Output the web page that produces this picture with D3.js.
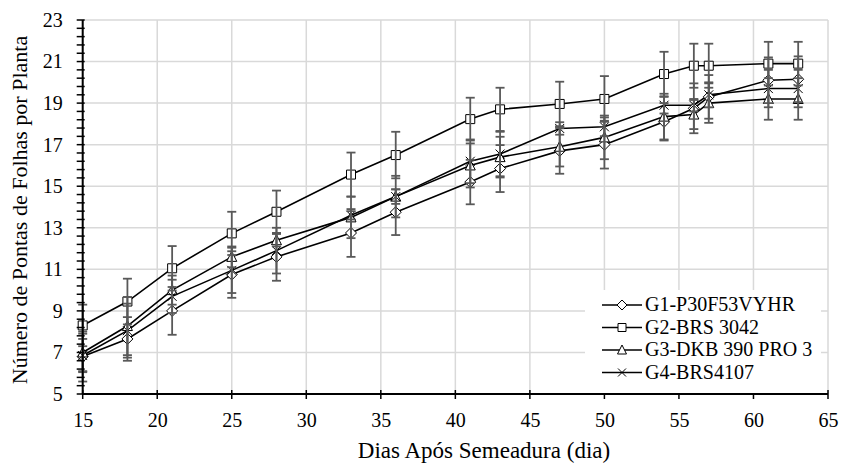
<!DOCTYPE html>
<html>
<head>
<meta charset="utf-8">
<script src="https://cdn.jsdelivr.net/npm/d3@7"></script>
<style>
  html, body { margin: 0; padding: 0; background: #fff; }
  svg { display: block; }
</style>
</head>
<body>
<svg id="chart" width="841" height="466"></svg>
<script>
// ---- data ----
const days = [15, 18, 21, 25, 28, 33, 36, 41, 43, 47, 50, 54, 56, 57, 61, 63];
const seriesNames = ["G1-P30F53VYHR", "G2-BRS 3042", "G3-DKB 390 PRO 3", "G4-BRS4107"];
const seriesMarkers = ["diamond", "square", "triangle", "x"];
const g1Values = [6.8, 7.65, 9.0, 10.75, 11.6, 12.75, 13.75, 15.2, 15.85, 16.7, 17.0, 18.1, 18.75, 19.3, 20.1, 20.15];
const g2Values = [8.3, 9.45, 11.05, 12.73, 13.77, 15.56, 16.5, 18.23, 18.7, 18.96, 19.2, 20.4, 20.8, 20.8, 20.9, 20.9];
const g3Values = [7.0, 8.27, 10.0, 11.6, 12.4, 13.5, 14.5, 16.0, 16.4, 16.9, 17.35, 18.35, 18.45, 19.0, 19.2, 19.2];
const g4Values = [6.85, 8.05, 9.7, 10.95, 11.9, 13.6, 14.5, 16.2, 16.55, 17.78, 17.86, 18.9, 18.9, 19.4, 19.7, 19.7];
const g1Errors = [1.2, 1.05, 1.15, 1.12, 1.15, 1.15, 1.1, 1.07, 1.13, 1.1, 1.15, 0.9, 1.2, 1.05, 1.1, 1.1];
const g2Errors = [1.0, 1.1, 1.07, 1.04, 1.02, 1.06, 1.12, 1.03, 1.04, 1.07, 1.1, 1.07, 1.06, 1.06, 1.05, 1.05];
const g3Errors = [0.9, 1.4, 0.7, 0.5, 0.3, 1.0, 1.0, 1.06, 0.98, 0.95, 1.05, 1.1, 0.7, 0.95, 1.0, 1.0];
const g4Errors = [0.8, 1.3, 0.8, 1.09, 1.1, 0.2, 0.35, 1.05, 1.07, 0.3, 0.45, 0.4, 0.3, 0.6, 0.9, 0.9];
const xTicks = [15, 20, 25, 30, 35, 40, 45, 50, 55, 60, 65];
const yTicks = [5, 7, 9, 11, 13, 15, 17, 19, 21, 23];
const xTitle = "Dias Após Semeadura (dia)";
const yTitle = "Número de Pontas de Folhas por Planta";

const seriesValues = [g1Values, g2Values, g3Values, g4Values];
const seriesErrors = [g1Errors, g2Errors, g3Errors, g4Errors];

// ---- layout ----
const svg = d3.select("#chart");
const FONT = "Liberation Serif";
const L = 82.7, R = 828, T = 20, B = 394;
const x = d3.scaleLinear().domain([15, 65]).range([L, R]);
const y = d3.scaleLinear().domain([5, 23]).range([B, T]);

const gridColor = "#d9d9d9";
const errColor = "#595959";

// gridlines
const grid = svg.append("g");
grid.selectAll("line.h").data(yTicks).join("line")
  .attr("x1", L).attr("x2", R).attr("y1", d => y(d)).attr("y2", d => y(d))
  .attr("stroke", gridColor).attr("stroke-width", 1.5);
grid.selectAll("line.v").data(xTicks).join("line")
  .attr("y1", T).attr("y2", B).attr("x1", d => x(d)).attr("x2", d => x(d))
  .attr("stroke", gridColor).attr("stroke-width", 1.5);

// marker paths
function markerPath(type, s) {
  const h = s / 2;
  switch (type) {
    case "diamond": return `M0,${-h - 1}L${h + 1},0L0,${h + 1}L${-h - 1},0Z`;
    case "square": return `M${-h},${-h}H${h}V${h}H${-h}Z`;
    case "triangle": return `M0,${-h - 1}L${h + 0.5},${h}H${-h - 0.5}Z`;
    case "x": return `M${-h},${-h}L${h},${h}M${-h},${h}L${h},${-h}`;
  }
}

const line = d3.line().x(d => x(d[0])).y(d => y(d[1]));
const plot = svg.append("g");

// lines
seriesValues.forEach((vals, i) => {
  plot.append("path")
    .datum(days.map((d, k) => [d, vals[k]]))
    .attr("d", line).attr("fill", "none")
    .attr("stroke", "#000").attr("stroke-width", 1.6);
});

// markers
seriesValues.forEach((vals, i) => {
  plot.selectAll(null).data(days.map((d, k) => [d, vals[k]])).join("path")
    .attr("transform", d => `translate(${x(d[0])},${y(d[1])})`)
    .attr("d", markerPath(seriesMarkers[i], 9))
    .attr("fill", seriesMarkers[i] === "x" ? "none" : "#fff")
    .attr("stroke", "#000").attr("stroke-width", 1);
});

// error bars
seriesValues.forEach((vals, i) => {
  const errs = seriesErrors[i];
  const g = plot.append("g").attr("stroke", errColor).attr("stroke-width", 1.8);
  days.forEach((d, k) => {
    const cx = x(d), y1 = y(vals[k] + errs[k]), y2 = y(vals[k] - errs[k]);
    g.append("line").attr("x1", cx).attr("x2", cx).attr("y1", y1).attr("y2", y2);
    g.append("line").attr("x1", cx - 4.5).attr("x2", cx + 4.5).attr("y1", y1).attr("y2", y1);
    g.append("line").attr("x1", cx - 4.5).attr("x2", cx + 4.5).attr("y1", y2).attr("y2", y2);
  });
});

// axes lines
svg.append("line").attr("x1", L).attr("x2", L).attr("y1", T).attr("y2", B)
  .attr("stroke", "#000").attr("stroke-width", 2);
svg.append("line").attr("x1", L).attr("x2", R).attr("y1", B).attr("y2", B)
  .attr("stroke", "#000").attr("stroke-width", 2);

// y ticks (major + minor every 0.4)
const yMinor = d3.range(0, 46).map(k => 5 + k * 0.4);
svg.append("g").selectAll("line").data(yMinor).join("line")
  .attr("x1", L - 6).attr("x2", L + 2).attr("y1", d => y(d)).attr("y2", d => y(d))
  .attr("stroke", "#000").attr("stroke-width", 1.5);
// x ticks
svg.append("g").selectAll("line").data(xTicks).join("line")
  .attr("x1", d => x(d)).attr("x2", d => x(d)).attr("y1", B - 4).attr("y2", B + 5)
  .attr("stroke", "#000").attr("stroke-width", 1.5);

// tick labels via axis generators
const yAxis = svg.append("g").attr("transform", `translate(${L},0)`)
  .call(d3.axisLeft(y).tickValues(yTicks).tickSize(0).tickPadding(20).tickFormat(d3.format("d")));
yAxis.attr("font-family", FONT).attr("font-size", 20);
yAxis.select(".domain").remove();
yAxis.selectAll("text").attr("font-family", FONT).attr("font-size", 20).attr("fill", "#000");

const xAxis = svg.append("g").attr("transform", `translate(0,${B})`)
  .call(d3.axisBottom(x).tickValues(xTicks).tickSize(0).tickPadding(19).tickFormat(d3.format("d")));
xAxis.attr("font-family", FONT).attr("font-size", 20);
xAxis.select(".domain").remove();
xAxis.selectAll("text").attr("font-family", FONT).attr("font-size", 20).attr("fill", "#000");

// titles
svg.append("text").attr("x", 484).attr("y", 458).attr("text-anchor", "middle")
  .attr("font-family", FONT).attr("font-size", 23).attr("fill", "#000").text(xTitle);
svg.append("text").attr("transform", `translate(27,210) rotate(-90)`)
  .attr("text-anchor", "middle").attr("font-family", FONT).attr("font-size", 22)
  .attr("fill", "#000").text(yTitle);

// legend
const leg = svg.append("g");
leg.append("rect").attr("x", 585).attr("y", 290).attr("width", 236).attr("height", 103).attr("fill", "#fff");
const rowsY = [305, 327.5, 350, 372.5];
seriesNames.forEach((name, i) => {
  const ly = rowsY[i];
  leg.append("line").attr("x1", 602).attr("x2", 642).attr("y1", ly).attr("y2", ly)
    .attr("stroke", "#000").attr("stroke-width", 1.6);
  leg.append("path").attr("transform", `translate(622,${ly})`)
    .attr("d", markerPath(seriesMarkers[i], 8))
    .attr("fill", seriesMarkers[i] === "x" ? "none" : "#fff")
    .attr("stroke", "#000").attr("stroke-width", 1);
  leg.append("text").attr("x", 645).attr("y", ly + 6)
    .attr("font-family", FONT).attr("font-size", 20).attr("fill", "#000").text(name);
});
</script>
</body>
</html>
